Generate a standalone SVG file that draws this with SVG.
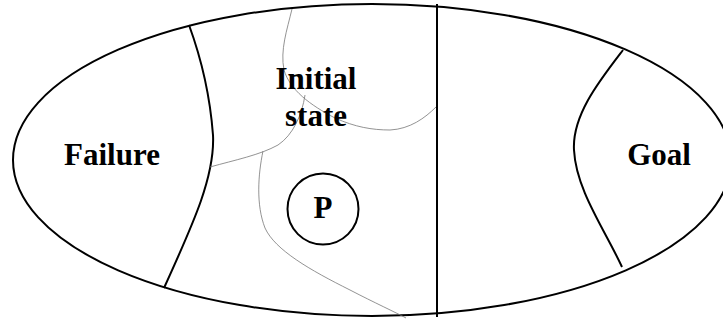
<svg xmlns="http://www.w3.org/2000/svg" width="723" height="320" viewBox="0 0 723 320">
<style>
.bold{fill:none;stroke:#000;stroke-width:2}
.thin{fill:none;stroke:#777;stroke-width:0.8}
.lbl{font-family:"Liberation Serif","Times New Roman",serif;font-weight:bold;font-size:31px;fill:#000;text-anchor:middle}
</style>
<rect width="723" height="320" fill="#fff"/>
<g id="outline">
<ellipse class="bold" cx="372" cy="160" rx="359" ry="156"/>
</g>
<g id="connectors">
<path class="bold" d="M437,4 L437,317"/>
<path class="bold" d="M189,25 C200,55 210,95 213,135 C215,175 195,220 164,288"/>
<path class="bold" d="M623,50 C600,80 572,115 574,150 C576,190 605,230 622,267"/>
<path class="thin" d="M292,9 C287,30 280,50 284,70 C290,90 310,105 335,118 C355,127 372,130 390,130 C410,129 425,118 436,107"/>
<path class="thin" d="M305,95 C302,115 293,135 278,145 C260,155 235,160 210,167"/>
<path class="thin" d="M263,151 C258,175 256,205 265,228 C275,250 310,270 350,290 C375,303 395,312 406,318"/>
</g>
<g id="failure"><text class="lbl" x="112" y="165">Failure</text></g>
<g id="initial"><text class="lbl" x="316" y="89">Initial</text><text class="lbl" x="316" y="126">state</text></g>
<g id="p"><circle class="bold" cx="323" cy="209" r="35.5"/><text class="lbl" x="323" y="218">P</text></g>
<g id="goal"><text class="lbl" x="659" y="165">Goal</text></g>
</svg>
